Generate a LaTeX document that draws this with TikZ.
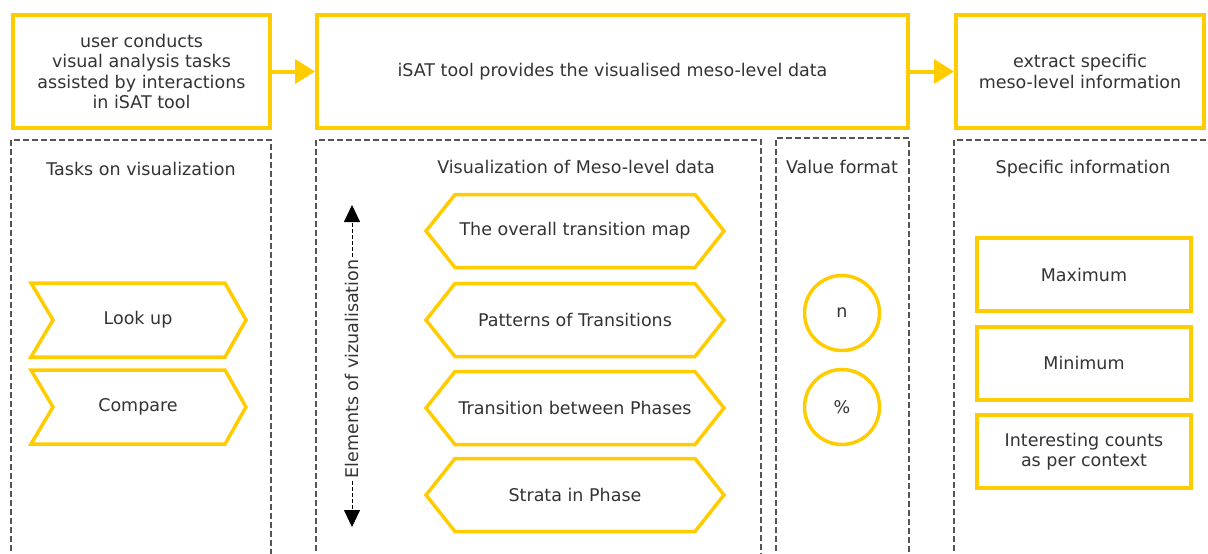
\documentclass[tikz,border=0pt]{standalone}
\usepackage{fontspec}
\setmainfont{DejaVu Sans}
\usetikzlibrary{arrows.meta}
\definecolor{ycol}{HTML}{FFCC00}
\definecolor{tcol}{HTML}{333333}
\definecolor{dcol}{HTML}{555555}
\begin{document}
\begin{tikzpicture}[x=1pt,y=-1pt,
  every node/.style={text=tcol, font=\fontsize{17.5}{20.5}\selectfont, align=center},
  ybox/.style={draw=ycol, line width=4pt, fill=white, inner sep=0pt},
  yshape/.style={draw=ycol, line width=3.5pt, line join=miter},
  dbox/.style={draw=dcol, line width=1.1pt, dash pattern=on 6pt off 3pt},
  yarrow/.style={draw=ycol, line width=4pt, -{Triangle[length=20pt,width=24pt]}},
  varrow/.style={black, line width=0.8pt, dash pattern=on 4pt off 2pt, -{Triangle[length=17pt,width=16pt]}},
  ttl/.style={inner sep=1pt}
]
\useasboundingbox (0,0) rectangle (1208,554);

% top boxes
\node[ybox, minimum width=257pt, minimum height=113pt] (b1) at (141.5,71.5)
  {user conducts\\visual analysis tasks\\assisted by interactions\\in iSAT tool};
\node[ybox, minimum width=591pt, minimum height=113pt] (b2) at (612.5,71.5)
  {iSAT tool provides the visualised meso-level data};
\node[ybox, minimum width=248pt, minimum height=113pt] (b3) at (1080,71.5)
  {extract specific\\meso-level information};
\draw[yarrow] (b1.east) -- (b2.west);
\draw[yarrow] (b2.east) -- (b3.west);

% dashed panels
\draw[dbox] (11,560) |- (271,140) -- (271,560);
\draw[dbox] (316,560) |- (761,140) -- (761,560);
\draw[dbox] (776,560) |- (909,138) -- (909,560);
\draw[dbox] (954,560) |- (1212,140);

\node[ttl] (t1) at (141,169) {Tasks on visualization};
\node[ttl] (t2) at (576,167) {Visualization of Meso-level data};
\node[ttl] (t3) at (842,167) {Value format};
\node[ttl] (t4) at (1083,169) {Specific information};

% chevrons
\foreach \cy/\nm/\tx in {320/lookup/Look up, 407/compare/Compare}{
  \draw[yshape] (31,\cy-37) -- (225,\cy-37) -- (246,\cy) -- (225,\cy+37)
     -- (31,\cy+37) -- (53,\cy) -- cycle;
  \node (\nm) at (138,\cy) {\tx};
}

% hexagons
\foreach \cy/\nm/\tx in {231/h1/The overall transition map, 320/h2/Patterns of Transitions,
    408/h3/Transition between Phases, 495/h4/Strata in Phase}{
  \draw[yshape] (426,\cy) -- (455,\cy-36.5) -- (695,\cy-36.5) -- (724,\cy)
     -- (695,\cy+36.5) -- (455,\cy+36.5) -- cycle;
  \node (\nm) at (575,\cy) {\tx};
}

% vertical arrow
\coordinate (vtop) at (352,205);
\coordinate (vbot) at (352,527);
\node[rotate=90, inner sep=2pt] (elab) at (352,369) {Elements of vizualisation};
\draw[varrow] (elab.east) -- (vtop);
\draw[varrow] (elab.west) -- (vbot);

% circles
\node[circle, draw=ycol, line width=3.5pt, minimum size=75pt, inner sep=0pt] (cn) at (842,313) {n};
\node[circle, draw=ycol, line width=3.5pt, minimum size=75pt, inner sep=0pt] (cp) at (842,407) {\%};

% right boxes
\node[ybox, minimum width=214pt, minimum height=73pt] (mx) at (1084,274.5) {Maximum};
\node[ybox, minimum width=214pt, minimum height=73pt] (mn) at (1084,363) {Minimum};
\node[ybox, minimum width=214pt, minimum height=73pt] (ic) at (1084,451.5) {Interesting counts\\as per context};
\end{tikzpicture}
\end{document}
